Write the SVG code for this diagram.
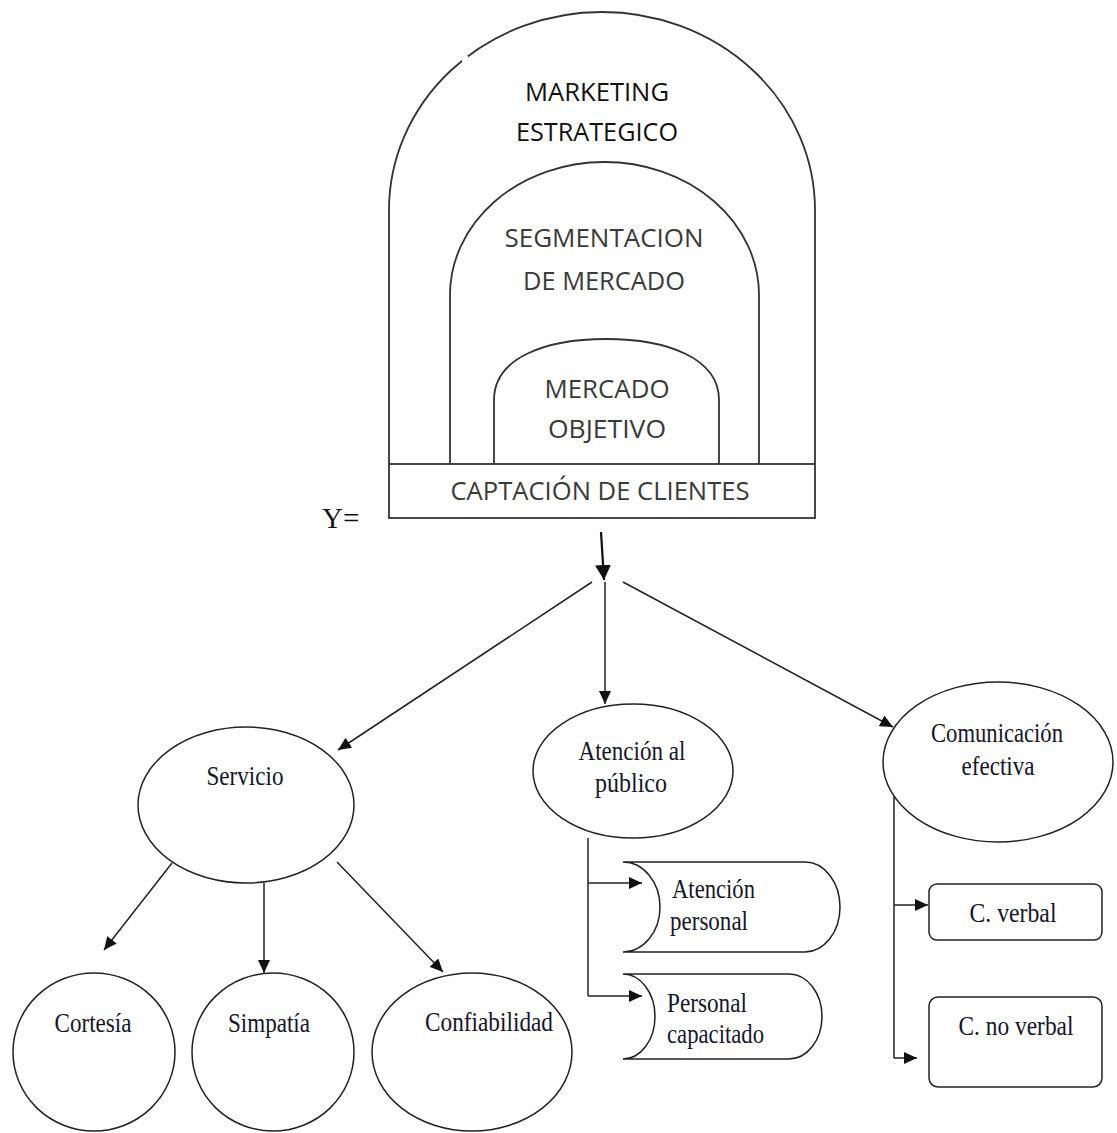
<svg xmlns="http://www.w3.org/2000/svg" width="1117" height="1133" viewBox="0 0 1117 1133">
<style>
.arch{fill:none;stroke:#333;stroke-width:1.8}
.sans{font-family:"Open Sans","Liberation Sans",sans-serif;font-size:26px;fill:#3a3a3a;text-anchor:middle}
.sans.k{fill:#111}
.node{fill:#fff;stroke:#222;stroke-width:1.5}
.lbl{font-family:"Liberation Serif","Times New Roman",serif;font-size:28px;fill:#15152a;text-anchor:middle}
.lbl.s{text-anchor:start}
.con{fill:none;stroke:#222;stroke-width:1.5}
.big{fill:none;stroke:#111;stroke-width:2.2}
</style>
<defs>
<marker id="ah" markerUnits="userSpaceOnUse" markerWidth="14" markerHeight="12" refX="13" refY="6" orient="auto">
<path d="M0,0 L13,6 L0,12 z" fill="#111"/>
</marker>
<marker id="ahb" markerUnits="userSpaceOnUse" markerWidth="16" markerHeight="16" refX="15" refY="8" orient="auto">
<path d="M0,0 L15,8 L0,16 z" fill="#111"/>
</marker>
</defs>
<rect width="1117" height="1133" fill="#fff"/>

<g id="marketing-estrategico">
<path class="arch" d="M389,464 V210 A213,198 0 0 1 815,210 V464"/>
<rect x="462" y="56" width="6" height="8" fill="#fff"/>
<text class="sans k" x="597" y="101" textLength="144" lengthAdjust="spacingAndGlyphs">MARKETING</text>
<text class="sans k" x="597" y="141" textLength="162" lengthAdjust="spacingAndGlyphs">ESTRATEGICO</text>
</g>
<g id="segmentacion">
<path class="arch" d="M450,464 V295 A154.5,133 0 0 1 759,295 V464"/>
<text class="sans" x="604" y="247" textLength="199" lengthAdjust="spacingAndGlyphs">SEGMENTACION</text>
<text class="sans" x="604" y="290" textLength="162" lengthAdjust="spacingAndGlyphs">DE MERCADO</text>
</g>
<g id="mercado-objetivo">
<path class="arch" d="M494,464 V400 C494,358 545,339 606,339 C667,339 719,358 719,400 V464"/>
<text class="sans" x="607" y="398" textLength="125" lengthAdjust="spacingAndGlyphs">MERCADO</text>
<text class="sans" x="607" y="438" textLength="118" lengthAdjust="spacingAndGlyphs">OBJETIVO</text>
</g>
<g id="captacion">
<rect x="389" y="464" width="426" height="54" fill="#fff" stroke="#333" stroke-width="1.8"/>
<text class="sans" x="600" y="500" textLength="299" lengthAdjust="spacingAndGlyphs">CAPTACIÓN DE CLIENTES</text>
</g>
<g id="y-label">
<text x="322" y="528" font-family="Liberation Serif,Times New Roman,serif" font-size="29" fill="#111">Y=</text>
</g>

<g id="servicio">
<ellipse class="node" cx="246" cy="805" rx="108" ry="78"/>
<text class="lbl" x="245" y="785" textLength="77" lengthAdjust="spacingAndGlyphs">Servicio</text>
</g>
<g id="atencion-publico">
<ellipse class="node" cx="633" cy="771" rx="100" ry="67"/>
<text class="lbl" x="632" y="760" textLength="107" lengthAdjust="spacingAndGlyphs">Atención al</text>
<text class="lbl" x="631" y="792" textLength="72" lengthAdjust="spacingAndGlyphs">público</text>
</g>
<g id="comunicacion">
<ellipse class="node" cx="998" cy="762" rx="115" ry="80"/>
<text class="lbl" x="997" y="742" textLength="132" lengthAdjust="spacingAndGlyphs">Comunicación</text>
<text class="lbl" x="998" y="775" textLength="73" lengthAdjust="spacingAndGlyphs">efectiva</text>
</g>
<g id="cortesia">
<ellipse class="node" cx="94" cy="1052" rx="81" ry="79"/>
<text class="lbl" x="93" y="1032" textLength="77" lengthAdjust="spacingAndGlyphs">Cortesía</text>
</g>
<g id="simpatia">
<ellipse class="node" cx="273" cy="1052" rx="81" ry="79"/>
<text class="lbl" x="269" y="1032" textLength="82" lengthAdjust="spacingAndGlyphs">Simpatía</text>
</g>
<g id="confiabilidad">
<ellipse class="node" cx="472" cy="1052" rx="100" ry="79"/>
<text class="lbl" x="489" y="1031" textLength="128" lengthAdjust="spacingAndGlyphs">Confiabilidad</text>
</g>
<g id="atencion-personal">
<path class="node" stroke-width="1.8" d="M623,862 H805 A35,45 0 0 1 805,952 H623 A37,45 0 0 0 623,862 Z"/>
<text class="lbl s" x="672" y="898" textLength="83" lengthAdjust="spacingAndGlyphs">Atención</text>
<text class="lbl s" x="670" y="930" textLength="78" lengthAdjust="spacingAndGlyphs">personal</text>
</g>
<g id="personal-capacitado">
<path class="node" stroke-width="1.8" d="M623,974 H789 A33,42.5 0 0 1 789,1059 H623 A32,42.5 0 0 0 623,974 Z"/>
<text class="lbl s" x="667" y="1012" textLength="80" lengthAdjust="spacingAndGlyphs">Personal</text>
<text class="lbl s" x="667" y="1043" textLength="97" lengthAdjust="spacingAndGlyphs">capacitado</text>
</g>
<g id="c-verbal">
<rect class="node" x="929" y="884" width="173" height="56" rx="8"/>
<text class="lbl" x="1013" y="922" textLength="87" lengthAdjust="spacingAndGlyphs">C. verbal</text>
</g>
<g id="c-no-verbal">
<rect class="node" x="929" y="997" width="173" height="90" rx="9"/>
<text class="lbl" x="1016" y="1035" textLength="115" lengthAdjust="spacingAndGlyphs">C. no verbal</text>
</g>

<g id="connectors">
<line class="big" x1="601" y1="532" x2="604" y2="580" marker-end="url(#ahb)"/>
<line class="con" x1="592" y1="582" x2="338" y2="750" marker-end="url(#ah)"/>
<line class="con" x1="605" y1="582" x2="605" y2="704" marker-end="url(#ah)"/>
<line class="con" x1="623" y1="582" x2="893" y2="727" marker-end="url(#ah)"/>
<line class="con" x1="172" y1="863" x2="104" y2="950" marker-end="url(#ah)"/>
<line class="con" x1="264" y1="883" x2="264" y2="973" marker-end="url(#ah)"/>
<line class="con" x1="337" y1="862" x2="443" y2="972" marker-end="url(#ah)"/>
<line class="con" x1="588" y1="838" x2="588" y2="996"/>
<line class="con" x1="588" y1="883" x2="642" y2="883" marker-end="url(#ah)"/>
<line class="con" x1="588" y1="996" x2="642" y2="996" marker-end="url(#ah)"/>
<line class="con" x1="894" y1="796" x2="894" y2="1058"/>
<line class="con" x1="894" y1="905" x2="928" y2="905" marker-end="url(#ah)"/>
<line class="con" x1="894" y1="1058" x2="917" y2="1058" marker-end="url(#ah)"/>
</g>
</svg>
